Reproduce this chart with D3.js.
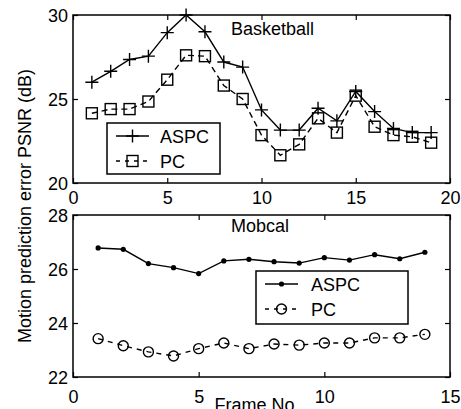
<!DOCTYPE html>
<html>
<head>
<meta charset="utf-8">
<script src="https://cdn.jsdelivr.net/npm/d3@7"></script>
<style>
body { margin: 0; background: #fff; }
svg { display: block; font-family: "Liberation Sans", Arial, sans-serif; }
.frame { fill: none; stroke: #000; stroke-width: 1.5; }
.tick line { stroke: #000; stroke-width: 1.2; }
.tick text { font-size: 18px; fill: #000; }
.domain { display: none; }
</style>
</head>
<body>
<div id="viz"></div>
<script>
// basketball sequence
var bbFrames = [1,2,3,4,5,6,7,8,9,10,11,12,13,14,15,16,17,18,19];
var bbASPC = [26.0,26.65,27.35,27.55,28.95,30.0,29.0,27.2,26.9,24.35,23.15,23.15,24.45,23.7,25.45,24.25,23.25,23.0,23.0];
var bbPC   = [24.15,24.4,24.4,24.85,26.15,27.6,27.55,25.8,25.0,22.85,21.65,22.3,23.85,23.0,25.2,23.35,22.85,22.75,22.4];
var bbXTicks = [0,5,10,15,20];
var bbYTicks = [20,25,30];

// mobcal sequence
var mcFrames = [1,2,3,4,5,6,7,8,9,10,11,12,13,14];
var mcASPC = [26.78,26.73,26.2,26.05,25.83,26.3,26.36,26.27,26.22,26.42,26.33,26.53,26.38,26.62];
var mcPC   = [23.42,23.16,22.93,22.78,23.05,23.26,23.05,23.22,23.18,23.26,23.26,23.45,23.45,23.58];
var mcXTicks = [0,5,10,15];
var mcYTicks = [22,24,26,28];

var seriesNames = ["ASPC", "PC"];

var W = 461, H = 409;
var svg = d3.select("#viz").append("svg")
    .attr("width", W)
    .attr("height", H);

var left = 73, right = 450;

function panel(o) {
    var x = d3.scaleLinear().domain(o.xd).range([left, right]);
    var y = d3.scaleLinear().domain(o.yd).range([o.bottom, o.top]);
    var g = svg.append("g");
    var tl = 5;

    // ticks on all four sides, pointing inwards like matlab
    g.append("g").attr("transform", "translate(0," + o.bottom + ")")
        .call(d3.axisBottom(x).tickValues(o.xt).tickSize(-tl).tickPadding(tl + 4).tickFormat(d3.format("d")));
    g.append("g").attr("transform", "translate(0," + o.top + ")")
        .call(d3.axisTop(x).tickValues(o.xt).tickSize(-tl).tickFormat(""));
    g.append("g").attr("transform", "translate(" + left + ",0)")
        .call(d3.axisLeft(y).tickValues(o.yt).tickSize(-tl).tickPadding(tl + 1).tickFormat(d3.format("d")));
    g.append("g").attr("transform", "translate(" + right + ",0)")
        .call(d3.axisRight(y).tickValues(o.yt).tickSize(-tl).tickFormat(""));

    g.selectAll(".tick text").attr("dy", null);
    g.selectAll(".tick text").filter(function() { return d3.select(this.parentNode.parentNode).attr("transform").indexOf("translate(0,") === 0; })
        .attr("y", o.xLabY - o.bottom);
    g.selectAll(".tick text").filter(function() { return d3.select(this.parentNode.parentNode).attr("transform").indexOf("translate(" + left) === 0; })
        .attr("dy", "0.36em").attr("x", -5);

    g.append("rect").attr("class", "frame")
        .attr("x", left).attr("y", o.top)
        .attr("width", right - left).attr("height", o.bottom - o.top);

    g.append("text")
        .attr("x", o.titleX).attr("y", o.titleY)
        .attr("font-size", 18)
        .text(o.title);

    var line = d3.line().x(function(d) { return x(d[0]); }).y(function(d) { return y(d[1]); });
    var a = o.frames.map(function(f, i) { return [f, o.aspc[i]]; });
    var p = o.frames.map(function(f, i) { return [f, o.pc[i]]; });

    g.append("path").datum(a).attr("d", line)
        .attr("fill", "none").attr("stroke", "#000").attr("stroke-width", 1.4);
    g.append("path").datum(p).attr("d", line)
        .attr("fill", "none").attr("stroke", "#000").attr("stroke-width", 1.4)
        .attr("stroke-dasharray", o.dash);

    drawMarks(g, a.map(function(d) { return [x(d[0]), y(d[1])]; }), o.markA);
    drawMarks(g, p.map(function(d) { return [x(d[0]), y(d[1])]; }), o.markP);

    // legend
    var lg = o.legend;
    g.append("rect").attr("class", "frame")
        .attr("x", lg.x).attr("y", lg.y).attr("width", lg.w).attr("height", lg.h);
    seriesNames.forEach(function(name, i) {
        var ly = lg.y + 13 + i * 25;
        var ln = g.append("line")
            .attr("x1", lg.x + 9).attr("x2", lg.x + 42)
            .attr("y1", ly).attr("y2", ly)
            .attr("stroke", "#000").attr("stroke-width", 1.4);
        if (i == 1) ln.attr("stroke-dasharray", "4,5");
        drawMarks(g, [[lg.x + 25.5, ly]], i == 0 ? o.markA : o.markP);
        g.append("text")
            .attr("x", lg.x + lg.tx).attr("y", ly + 7)
            .attr("font-size", 18)
            .text(name);
    });
}

function drawMarks(g, pts, kind) {
    pts.forEach(function(pt) {
        var cx = pt[0], cy = pt[1];
        if (kind == "plus") {
            g.append("path")
                .attr("d", "M" + (cx - 6.5) + "," + cy + "H" + (cx + 6.5) + "M" + cx + "," + (cy - 6.5) + "V" + (cy + 6.5))
                .attr("stroke", "#000").attr("stroke-width", 1.4);
        } else if (kind == "square") {
            g.append("rect")
                .attr("x", cx - 5.5).attr("y", cy - 5.5).attr("width", 11).attr("height", 11)
                .attr("fill", "none").attr("stroke", "#000").attr("stroke-width", 1.4);
        } else if (kind == "dot") {
            g.append("circle").attr("cx", cx).attr("cy", cy).attr("r", 2.6).attr("fill", "#000");
        } else {
            g.append("circle").attr("cx", cx).attr("cy", cy).attr("r", 5)
                .attr("fill", "none").attr("stroke", "#000").attr("stroke-width", 1.4);
        }
    });
}

panel({
    top: 15, bottom: 183, xd: [0, 20], yd: [20, 30], xt: bbXTicks, yt: bbYTicks,
    frames: bbFrames, aspc: bbASPC, pc: bbPC, markA: "plus", markP: "square",
    dash: "6,4", title: "Basketball", titleX: 231, titleY: 35, xLabY: 204,
    legend: { x: 107, y: 123, w: 113, h: 51, tx: 53 }
});

panel({
    top: 215, bottom: 377, xd: [0, 15], yd: [22, 28], xt: mcXTicks, yt: mcYTicks,
    frames: mcFrames, aspc: mcASPC, pc: mcPC, markA: "dot", markP: "circle",
    dash: "5,5", title: "Mobcal", titleX: 231, titleY: 232, xLabY: 403,
    legend: { x: 256, y: 271, w: 152, h: 53, tx: 55 }
});

svg.append("text")
    .attr("transform", "translate(31,206) rotate(-90)")
    .attr("text-anchor", "middle")
    .attr("font-size", 18)
    .text("Motion prediction error PSNR (dB)");

svg.append("text")
    .attr("x", 257).attr("y", 411)
    .attr("text-anchor", "middle")
    .attr("font-size", 18)
    .text("Frame No.");
</script>
</body>
</html>
